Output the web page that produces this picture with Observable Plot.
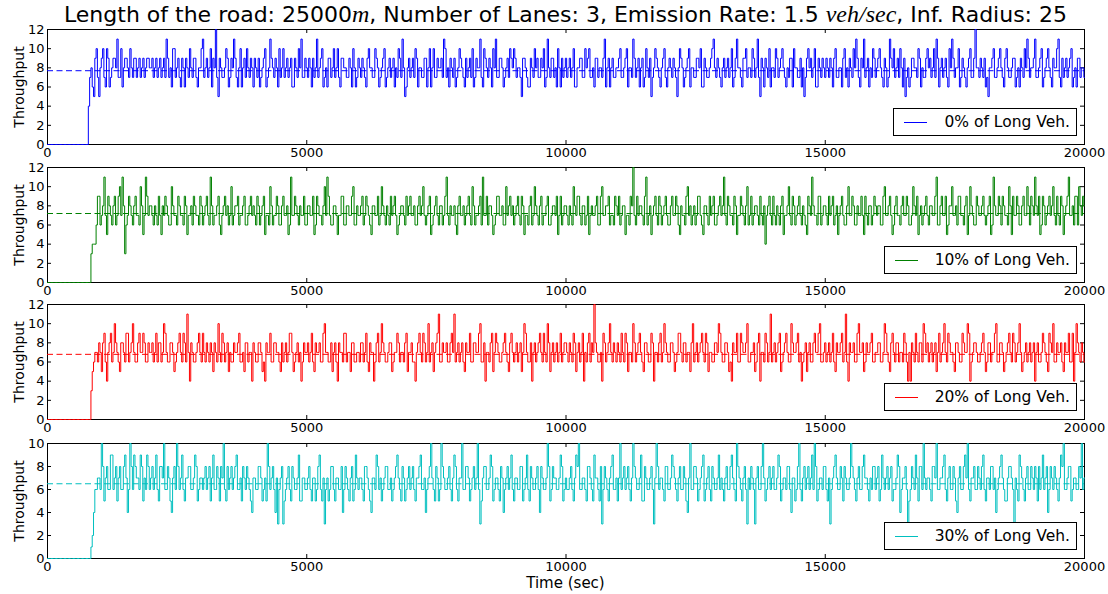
<!DOCTYPE html>
<html>
<head>
<meta charset="utf-8">
<script src="https://cdn.jsdelivr.net/npm/d3@7"></script>
<script src="https://cdn.jsdelivr.net/npm/@observablehq/plot@0.6"></script>
<style>
  html, body { margin: 0; padding: 0; background: #fff; }
  #root { position: relative; width: 1108px; height: 594px; font-family: "DejaVu Sans", sans-serif; color: #000; overflow: hidden; }
  #title { position: absolute; left: 47px; width: 1037px; top: 0px; text-align: center; font-size: 22px; line-height: 28px; white-space: nowrap; }
  #title i { font-family: "Liberation Serif", serif; font-style: italic; font-size: 24px; }
  .panel { position: absolute; left: 0; }
  .ylab { position: absolute; font-size: 14px; transform: translate(-50%, -50%) rotate(-90deg); white-space: nowrap; }
  .legend { position: absolute; right: 31px; height: 26px; border: 1px solid #000; background: #fff; display: flex; align-items: center; padding: 0 6px 0 10px; font-size: 15.5px; white-space: nowrap; }
  .legend .sw { width: 23px; height: 0; border-top: 1px solid; margin-right: 17px; }
  #xlab { position: absolute; left: 47px; width: 1037px; text-align: center; top: 574px; font-size: 15px; }
</style>
</head>
<body>
<div id="root">
  <div id="title">Length of the road: 25000<i>m</i>, Number of Lanes: 3, Emission Rate: 1.5 <i>veh/sec</i>, Inf. Radius: 25</div>
  <div id="xlab">Time (sec)</div>
</div>
<script>
// ---- data ----
const STEP = 50; // seconds between main samples; the "b" arrays hold the samples half a step later
const xTicks = [0, 5000, 10000, 15000, 20000];
const labels = ["0% of Long Veh.", "10% of Long Veh.", "20% of Long Veh.", "30% of Long Veh."];
const colors = ["#0000ff", "#008000", "#ff0000", "#00bfbf"];
const yMax = [12, 12, 12, 10];
const means = [7.7, 7.2, 6.8, 6.5];

const s0 = [
0,0,0,0,0,0,0,0,0,0,0,0,0,0,0,0,4,8,5,10,
5,9,7,10,6,8,9,11,7,6,9,8,10,7,9,8,7,9,8,9,
8,7,9,8,7,9,11,7,6,10,8,7,9,6,8,10,7,9,6,8,
11,8,7,10,9,12,5,8,7,10,6,9,11,7,8,6,9,10,7,8,
9,7,6,8,10,7,11,8,9,6,7,10,8,7,9,6,8,10,11,7,
8,9,6,7,11,8,10,7,6,9,8,7,10,6,9,8,7,8,10,6,
9,7,8,6,10,8,7,9,6,8,10,7,9,8,6,7,9,11,5,8,
7,9,10,6,8,7,9,8,6,10,7,8,9,11,7,6,8,9,7,10,
8,6,7,9,10,7,8,11,6,9,7,8,10,11,7,9,6,8,7,9,
10,7,8,5,9,7,6,8,10,9,7,8,6,11,7,9,8,10,6,7,
9,8,7,10,6,8,9,7,8,10,7,6,9,8,7,11,8,6,9,7,
8,10,7,9,6,8,11,7,9,8,6,10,7,5,8,9,7,8,10,6,
9,7,8,5,10,8,7,9,6,8,7,9,10,6,8,7,9,11,7,8,
6,9,8,7,10,7,11,8,6,9,7,8,10,7,11,5,8,9,7,6,
8,10,7,9,8,6,7,9,10,8,7,6,5,9,8,7,10,6,8,9,
7,8,9,6,10,7,8,9,7,6,8,10,11,7,9,11,8,6,7,9,
8,10,7,9,6,11,8,7,9,10,6,5,8,7,9,8,10,6,7,9,
8,7,10,11,6,9,8,7,10,11,7,8,6,9,7,8,10,7,12,8,
9,7,6,5,8,10,7,9,8,6,10,7,8,9,7,6,8,10,11,7,
8,11,7,9,6,8,10,7,9,8,11,6,7,9,8,10,7,6,9,8,
7];
const s0b = [
0,0,0,0,0,0,0,0,0,0,0,0,0,0,0,0,7,6,9,7,
8,10,6,9,7,9,8,7,10,8,9,7,8,9,7,9,8,7,9,8,
9,8,7,9,8,7,9,8,10,7,9,6,8,9,7,8,9,7,8,10,
7,9,8,6,8,7,9,7,8,9,7,8,9,6,10,8,7,8,9,6,
8,9,7,9,6,8,9,7,8,10,8,7,9,8,6,9,7,8,7,9,
7,8,9,8,7,9,6,8,9,7,10,8,7,9,8,7,9,6,8,7,
8,9,7,9,8,7,10,8,7,9,6,8,7,9,8,10,7,8,6,9,
8,7,9,8,7,9,6,10,8,7,9,8,7,10,8,9,7,6,8,9,
7,9,8,7,6,9,8,7,10,8,9,6,8,7,9,8,7,9,10,8,
9,8,7,9,8,6,9,7,8,7,9,10,7,8,9,7,6,8,9,8,
7,9,8,6,8,9,7,10,9,7,8,9,7,8,9,6,9,8,7,8,
9,7,8,10,8,7,9,8,6,9,7,8,9,7,10,8,6,9,7,8,
8,9,7,8,9,6,8,10,8,7,9,8,6,9,7,8,10,8,9,7,
8,7,9,8,6,9,8,7,9,10,8,7,9,8,7,9,6,8,10,8,
7,9,8,10,7,8,9,6,8,7,9,8,7,10,9,8,6,9,7,8,
9,7,8,9,7,8,6,10,8,9,7,8,9,6,8,7,9,8,10,7,
9,8,6,8,7,9,10,8,7,8,9,7,6,9,8,7,9,8,7,10,
9,8,7,9,8,7,9,6,8,9,8,10,7,8,6,9,7,9,8,7,
8,9,7,8,9,7,8,10,7,9,8,7,9,6,8,9,7,8,9,8,
9,7,8,10,7,9,8,6,8,10,7,9,8,7,9,6,8,9,7,8];

const s1 = [
0,0,0,0,0,0,0,0,0,0,0,0,0,0,0,0,0,3,4,6,
9,7,11,5,8,6,9,7,10,11,3,7,8,6,9,7,10,5,11,7,
8,6,7,9,5,7,8,6,10,7,6,8,7,9,5,7,6,8,7,9,
6,8,7,11,6,7,9,5,8,7,6,10,7,8,6,7,9,6,8,7,
7,9,6,8,5,7,10,6,7,8,6,9,7,5,11,7,8,6,7,9,
6,8,7,5,9,7,6,10,11,7,6,8,5,7,9,6,8,7,10,6,
7,8,6,9,7,5,8,7,6,10,7,8,6,7,9,5,7,8,6,7,
9,7,6,8,7,10,6,8,5,7,9,6,8,7,11,6,7,8,5,9,
7,6,8,7,10,6,7,9,11,7,6,8,5,7,9,7,6,10,8,7,
6,8,7,9,5,7,8,6,10,7,8,6,7,9,6,8,7,5,9,7,
8,6,7,10,7,9,6,8,7,5,8,7,9,6,10,7,8,6,7,9,
7,6,8,5,7,9,12,6,7,8,6,11,7,5,8,7,9,6,8,7,
6,9,7,8,5,7,6,10,8,7,6,9,7,5,8,6,7,9,6,8,
7,11,6,8,7,9,5,7,8,6,10,7,6,8,7,9,6,4,8,7,
9,6,7,8,5,7,10,6,8,7,9,6,7,5,8,11,7,6,9,7,
8,6,7,9,7,5,8,7,6,10,7,8,6,7,9,5,7,8,6,9,
7,8,6,10,7,9,5,8,7,6,9,7,8,6,10,7,5,8,7,9,
6,8,7,11,6,9,7,5,8,10,7,6,9,7,8,5,10,7,6,8,
7,9,6,8,5,11,7,9,6,8,7,10,5,7,9,6,8,7,10,6,
8,11,7,5,9,6,8,7,10,6,7,9,5,8,11,7,6,9,10,7,
8];
const s1b = [
0,0,0,0,0,0,0,0,0,0,0,0,0,0,0,0,0,4,4,9,
6,8,7,9,7,8,6,9,7,8,6,9,7,8,7,6,8,7,9,8,
7,8,6,7,8,9,7,6,8,7,9,7,6,8,7,8,9,7,6,8,
7,9,6,8,7,8,6,7,9,8,7,6,8,9,7,8,6,7,9,8,
6,8,7,9,7,6,8,7,9,6,8,7,8,6,7,9,7,8,7,6,
8,7,9,6,8,7,8,7,9,6,8,7,7,9,6,8,7,9,6,8,
7,9,7,8,6,8,7,9,7,8,6,7,9,8,7,6,8,7,9,8,
7,8,6,9,8,7,7,9,6,8,7,8,6,9,7,8,7,6,8,7,
8,7,9,6,8,7,8,6,7,9,8,7,6,9,7,8,6,7,9,8,
7,9,6,8,7,6,9,7,8,6,9,7,8,6,7,8,9,7,6,8,
7,8,6,8,9,7,8,6,9,7,7,8,6,9,7,8,9,7,6,8,
9,7,8,7,6,8,7,9,8,7,9,6,8,7,9,6,8,7,9,6,
8,7,9,6,8,7,9,7,6,8,7,9,6,8,7,9,8,6,7,9,
8,7,9,7,6,8,7,9,7,8,6,9,7,8,6,7,8,7,9,6,
7,8,6,9,7,8,7,9,6,8,7,8,6,9,7,8,7,9,6,8,
7,9,8,6,8,7,9,6,8,7,9,6,8,7,7,9,6,8,7,8,
8,6,9,7,8,7,6,9,7,8,7,9,6,7,8,9,7,6,8,7,
8,7,9,6,8,7,9,6,8,7,8,9,7,6,9,7,8,6,9,7,
8,7,7,9,6,8,7,8,9,7,6,8,9,7,8,6,9,7,8,9,
7,8,9,6,8,7,9,8,7,9,6,8,7,9,7,8,9,6,8,9];

const s2 = [
0,0,0,0,0,0,0,0,0,0,0,0,0,0,0,0,0,3,6,7,
8,5,9,4,8,6,10,7,5,8,6,9,7,10,6,8,7,9,6,8,
7,6,9,8,6,10,7,6,8,5,7,9,6,8,11,4,7,6,8,7,
9,6,7,8,5,7,10,6,8,7,5,6,8,7,9,6,5,8,7,4,
7,6,8,5,4,7,9,6,8,7,5,6,8,7,9,5,7,6,4,8,
7,6,9,5,7,8,6,10,7,6,5,8,4,7,6,9,7,5,8,6,
7,8,6,9,5,7,4,8,6,10,7,6,8,5,7,9,6,7,8,5,
7,6,4,8,7,9,6,10,7,5,8,11,6,7,8,6,9,11,7,6,
8,5,7,9,6,8,7,10,6,4,7,8,5,9,7,6,8,7,5,9,
6,8,7,5,10,7,6,4,8,7,9,6,7,10,5,8,7,6,9,7,
8,6,7,9,5,8,7,4,6,9,8,12,7,6,4,8,7,10,6,7,
8,6,7,9,5,7,10,6,8,7,5,8,6,9,4,7,8,6,10,7,
6,8,5,7,9,6,8,7,5,10,7,6,8,7,9,5,7,6,8,10,
7,6,8,5,4,7,9,6,8,7,10,6,7,5,8,4,7,9,6,11,
7,6,8,5,7,9,6,10,7,8,6,4,7,5,8,6,9,7,10,6,
8,7,6,9,5,7,8,6,11,4,7,8,6,10,7,5,8,7,9,6,
7,8,6,10,7,5,9,6,8,7,6,8,4,4,7,9,6,8,10,7,
6,8,7,5,9,7,10,6,8,7,5,8,6,9,7,10,4,7,8,6,
7,9,5,8,6,7,10,6,8,5,7,9,6,8,7,10,5,7,6,8,
7,4,8,6,9,7,5,8,10,6,7,8,5,7,9,6,4,10,7,8,
6];
const s2b = [
0,0,0,0,0,0,0,0,0,0,0,0,0,0,0,0,0,5,7,6,
7,8,6,7,9,7,8,6,8,7,9,6,8,7,6,9,7,8,6,7,
8,7,6,8,7,9,6,8,7,6,8,7,9,6,7,8,6,7,9,6,
7,8,6,7,8,6,7,9,6,8,7,6,7,8,6,7,8,6,7,8,
6,8,7,6,8,7,6,8,7,6,8,7,6,9,7,6,8,7,6,7,
8,7,6,8,7,6,9,7,6,8,7,6,8,7,9,6,7,8,6,7,
6,8,7,6,8,7,6,9,7,8,6,7,8,6,7,8,7,6,9,7,
8,6,7,9,6,8,7,6,8,7,9,6,8,7,6,8,7,6,8,7,
6,8,7,6,8,7,9,6,8,7,6,9,7,8,6,7,9,6,8,7,
7,6,8,7,9,6,8,7,6,8,7,9,6,8,7,6,8,7,6,8,
7,8,6,8,7,6,9,7,8,6,7,8,6,7,9,6,8,7,8,6,
7,9,6,8,7,6,8,7,9,6,8,7,6,8,7,6,9,7,8,6,
8,7,6,9,7,8,6,7,8,6,8,7,9,6,8,7,6,8,7,9,
6,8,7,6,8,7,6,9,7,8,6,7,8,6,9,7,6,8,7,6,
8,7,9,6,8,7,6,8,7,9,7,6,8,7,6,8,7,9,6,7,
6,8,7,6,8,7,9,7,6,8,7,6,9,7,8,6,7,8,6,7,
8,6,7,9,6,8,7,8,6,7,9,6,7,8,6,7,8,6,9,8,
7,6,8,7,6,8,7,9,7,6,8,7,6,8,7,9,6,8,7,6,
8,7,6,8,7,9,6,8,7,6,8,7,9,6,8,7,6,8,7,6,
8,7,6,7,8,6,9,7,6,8,7,6,8,7,6,9,7,8,6,7];

const s3 = [
0,0,0,0,0,0,0,0,0,0,0,0,0,0,0,0,0,1,4,6,
7,10,5,8,6,9,7,5,8,6,9,4,10,6,8,7,9,5,6,8,
7,6,9,5,8,10,6,7,4,8,10,6,9,5,7,8,6,9,5,7,
6,8,7,5,9,6,7,8,10,5,6,8,7,9,6,5,7,8,6,4,
7,6,8,5,7,10,6,8,4,3,7,3,6,8,5,7,6,9,5,7,
6,8,5,7,6,9,5,3,7,6,8,5,7,6,4,8,6,7,5,9,
6,7,5,8,6,4,7,9,6,5,7,8,6,5,7,9,6,8,5,7,
6,8,5,7,9,6,4,7,10,6,8,5,10,7,6,8,5,9,6,7,
10,6,8,5,7,6,10,3,7,8,6,9,5,7,6,8,4,7,6,9,
5,7,6,8,6,9,5,7,6,8,4,7,6,10,5,8,7,6,9,5,
7,6,8,5,9,10,6,7,5,8,6,9,7,5,3,8,6,7,9,6,
5,10,7,6,8,5,10,7,6,9,5,7,6,8,3,10,6,7,5,8,
6,9,7,5,8,6,7,4,10,6,8,5,7,9,6,8,5,7,6,9,
7,5,8,6,9,6,10,7,5,8,3,6,7,3,8,6,10,5,7,6,
8,6,9,5,7,6,8,4,7,6,10,5,8,7,6,9,10,5,7,6,
8,5,3,7,9,6,8,5,7,6,10,7,5,8,6,9,7,5,6,8,
7,5,9,6,8,7,5,6,9,4,7,8,3,6,7,9,5,8,10,6,
7,5,8,10,6,7,9,5,8,6,7,4,8,6,9,10,5,7,6,8,
6,9,5,7,8,6,4,7,9,6,5,8,7,3,6,9,7,5,8,6,
7,8,5,6,9,7,4,8,6,7,5,9,10,6,8,5,7,6,8,10,
7];
const s3b = [
0,0,0,0,0,0,0,0,0,0,0,0,0,0,0,0,0,2,6,7,
6,8,7,6,9,6,8,7,6,8,7,6,8,9,7,6,8,7,9,6,
8,7,6,8,7,6,8,5,7,6,8,7,6,7,8,6,7,8,6,7,
7,6,8,7,6,8,5,7,6,8,7,6,8,6,7,8,6,7,5,7,
6,8,7,6,5,8,7,6,7,6,8,5,7,6,8,6,7,5,7,6,
7,6,7,5,8,6,7,6,5,8,6,7,6,8,6,7,5,8,6,7,
7,6,8,7,5,7,6,8,7,6,8,6,7,6,8,7,5,7,6,8,
7,6,7,8,6,7,6,8,7,5,7,6,8,6,7,6,7,8,5,7,
6,8,7,6,8,7,6,5,8,6,7,8,6,7,5,7,6,8,7,6,
7,6,8,5,7,6,8,6,7,6,8,6,7,8,6,7,6,7,8,6,
6,7,6,7,8,6,7,6,8,7,5,7,6,8,6,7,5,8,6,7,
7,6,8,7,6,7,8,6,7,5,8,6,7,6,7,8,7,6,8,6,
7,8,6,7,6,8,5,7,6,8,7,6,8,5,7,6,8,6,7,6,
6,7,6,8,7,5,8,6,7,6,7,8,6,7,6,8,7,6,8,7,
6,7,8,6,7,8,6,7,5,8,6,7,6,8,7,6,8,6,7,8,
6,7,6,8,7,6,7,8,6,7,8,6,7,6,8,7,6,7,8,6,
8,6,7,7,6,8,6,7,8,6,7,6,5,8,6,7,8,6,7,7,
6,8,7,6,7,8,6,7,6,8,5,7,6,8,7,6,7,8,6,7,
8,6,7,6,8,7,6,8,7,5,7,8,6,7,5,8,6,7,6,8,
6,7,8,7,6,8,6,7,8,6,7,8,6,7,8,6,7,6,7,6];

const seriesA = [s0, s1, s2, s3];
const seriesB = [s0b, s1b, s2b, s3b];

// ---- layout ----
const panelTops = [29, 167, 304, 443];
const PH = 115, MT = 8, MB = 22, ML = 47, MR = 24, W = 1108;
const root = document.getElementById("root");

seriesA.forEach((vals, i) => {
  const half = seriesB[i];
  const data = [];
  vals.forEach((v, k) => {
    data.push({t: k * STEP, v});
    if (k < half.length) data.push({t: k * STEP + STEP / 2, v: half[k]});
  });
  const ymax = yMax[i];
  const yTicks = d3.range(0, ymax + 1, 2);
  const tx = 20000 * 4 / (W - ML - MR);
  const ty = ymax * 4 / PH;
  const color = colors[i];
  const svg = Plot.plot({
    width: W,
    height: MT + PH + MB,
    marginLeft: ML, marginRight: MR, marginTop: MT, marginBottom: MB,
    style: {fontFamily: "DejaVu Sans, sans-serif", fontSize: "13px", color: "#000", background: "transparent", overflow: "visible"},
    x: {domain: [0, 20000]},
    y: {domain: [0, ymax]},
    marks: [
      Plot.frame({stroke: "#000", strokeWidth: 1}),
      Plot.ruleX(xTicks, {y1: 0, y2: ty, stroke: "#000"}),
      Plot.ruleX(xTicks, {y1: ymax - ty, y2: ymax, stroke: "#000"}),
      Plot.ruleY(yTicks, {x1: 0, x2: tx, stroke: "#000"}),
      Plot.ruleY(yTicks, {x1: 20000 - tx, x2: 20000, stroke: "#000"}),
      Plot.ruleY([means[i]], {stroke: color, strokeWidth: 1, strokeDasharray: "6,3.5"}),
      Plot.line(data, {x: "t", y: "v", stroke: color, strokeWidth: 1, curve: "step"}),
      Plot.axisX({ticks: xTicks, tickSize: 0, tickPadding: 3, tickFormat: d => String(d), label: null}),
      Plot.axisY({ticks: yTicks, tickSize: 0, tickPadding: 3, tickFormat: d => String(d), label: null})
    ]
  });
  svg.classList.add("panel");
  svg.style.top = (panelTops[i] - MT) + "px";
  root.appendChild(svg);

  const yl = document.createElement("div");
  yl.className = "ylab";
  yl.textContent = "Throughput";
  yl.style.left = "19px";
  yl.style.top = (panelTops[i] + PH / 2) + "px";
  root.appendChild(yl);

  const lg = document.createElement("div");
  lg.className = "legend";
  lg.style.top = (panelTops[i] + PH - 8 - 28) + "px";
  const sw = document.createElement("span");
  sw.className = "sw";
  sw.style.borderTopColor = color;
  lg.appendChild(sw);
  lg.appendChild(document.createTextNode(labels[i]));
  root.appendChild(lg);
});
</script>
</body>
</html>
